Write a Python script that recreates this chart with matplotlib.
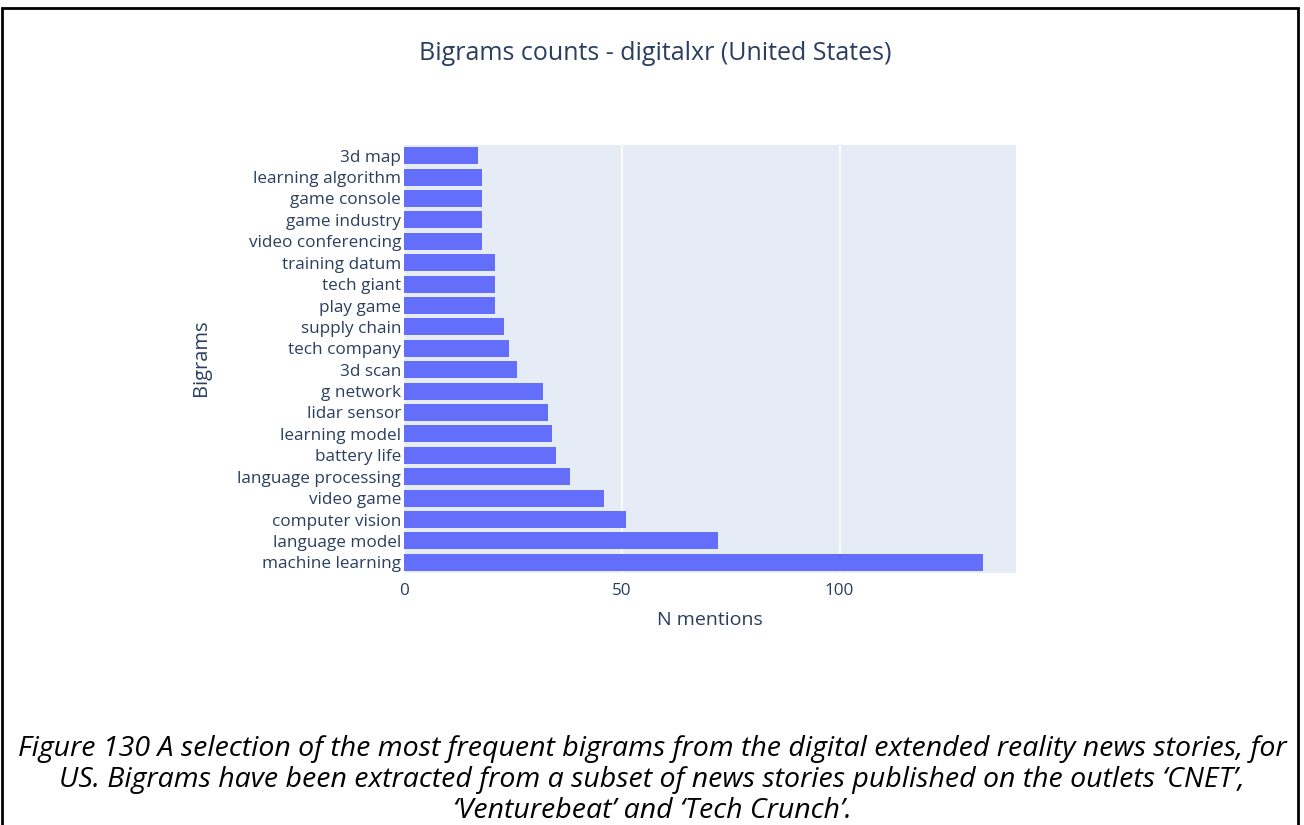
import matplotlib.pyplot as plt
from matplotlib.patches import Rectangle

# bigram counts, bottom -> top as drawn
bigrams = ['machine learning', 'language model', 'computer vision', 'video game',
           'language processing', 'battery life', 'learning model', 'lidar sensor',
           'g network', '3d scan', 'tech company', 'supply chain', 'play game',
           'tech giant', 'training datum', 'video conferencing', 'game industry',
           'game console', 'learning algorithm', '3d map']
counts = [133, 72, 51, 46, 38, 35, 34, 33, 32, 26, 24, 23, 21, 21, 21, 18, 18, 18, 18, 17]
xticks = [0, 50, 100]

W, H = 1304, 825
fig = plt.figure(figsize=(W / 100, H / 100), dpi=100)
fig.patch.set_facecolor('white')

# plot area in pixels: x 404..1016, y 145..573
ax = fig.add_axes([404 / W, 1 - 573 / H, (1016 - 404) / W, (573 - 145) / H])
ax.set_facecolor('#E5ECF6')
ax.barh(range(len(bigrams)), counts, height=0.8, color='#636EFA', zorder=3)
ax.set_ylim(-0.5, len(bigrams) - 0.5)
ax.set_xlim(0, 140.5)
ax.set_yticks(range(len(bigrams)))
ax.set_yticklabels(bigrams)
ax.set_xticks(xticks)
ax.grid(axis='x', color='white', linewidth=1.2, zorder=0)
for s in ax.spines.values():
    s.set_visible(False)
ax.tick_params(length=0, colors='#2a3f5f', labelsize=12.3)
for lab in ax.get_yticklabels() + ax.get_xticklabels():
    lab.set_fontfamily('Open Sans')
ax.tick_params(axis='y', pad=2)
ax.tick_params(axis='x', pad=7)

fig.text(655 / W, 1 - 53 / H, 'Bigrams counts - digitalxr (United States)',
         ha='center', va='center', fontsize=18, color='#2a3f5f', family='Open Sans')
fig.text(201 / W, 1 - 358 / H, 'Bigrams', rotation=90, ha='center', va='center',
         fontsize=14.5, color='#2a3f5f', family='Open Sans')
fig.text(710 / W, 1 - 620 / H, 'N mentions', ha='center', va='center',
         fontsize=14, color='#2a3f5f', family='Open Sans')

caption = ["Figure 130 A selection of the most frequent bigrams from the digital extended reality news stories, for",
           "US. Bigrams have been extracted from a subset of news stories published on the outlets \u2018CNET\u2019,",
           "\u2018Venturebeat\u2019 and \u2018Tech Crunch\u2019."]
for i, line in enumerate(caption):
    fig.text(652 / W, 1 - (749 + 31 * i) / H, line, ha='center', va='center',
             fontsize=20.5, style='italic', family='Open Sans', color='black')

# page frame
fig.add_artist(Rectangle((2 / W, -0.01), (1296 / W), 1.01 - 8 / H,
                         transform=fig.transFigure, fill=False,
                         edgecolor='black', linewidth=2))

fig.savefig('out.png', dpi=100)
